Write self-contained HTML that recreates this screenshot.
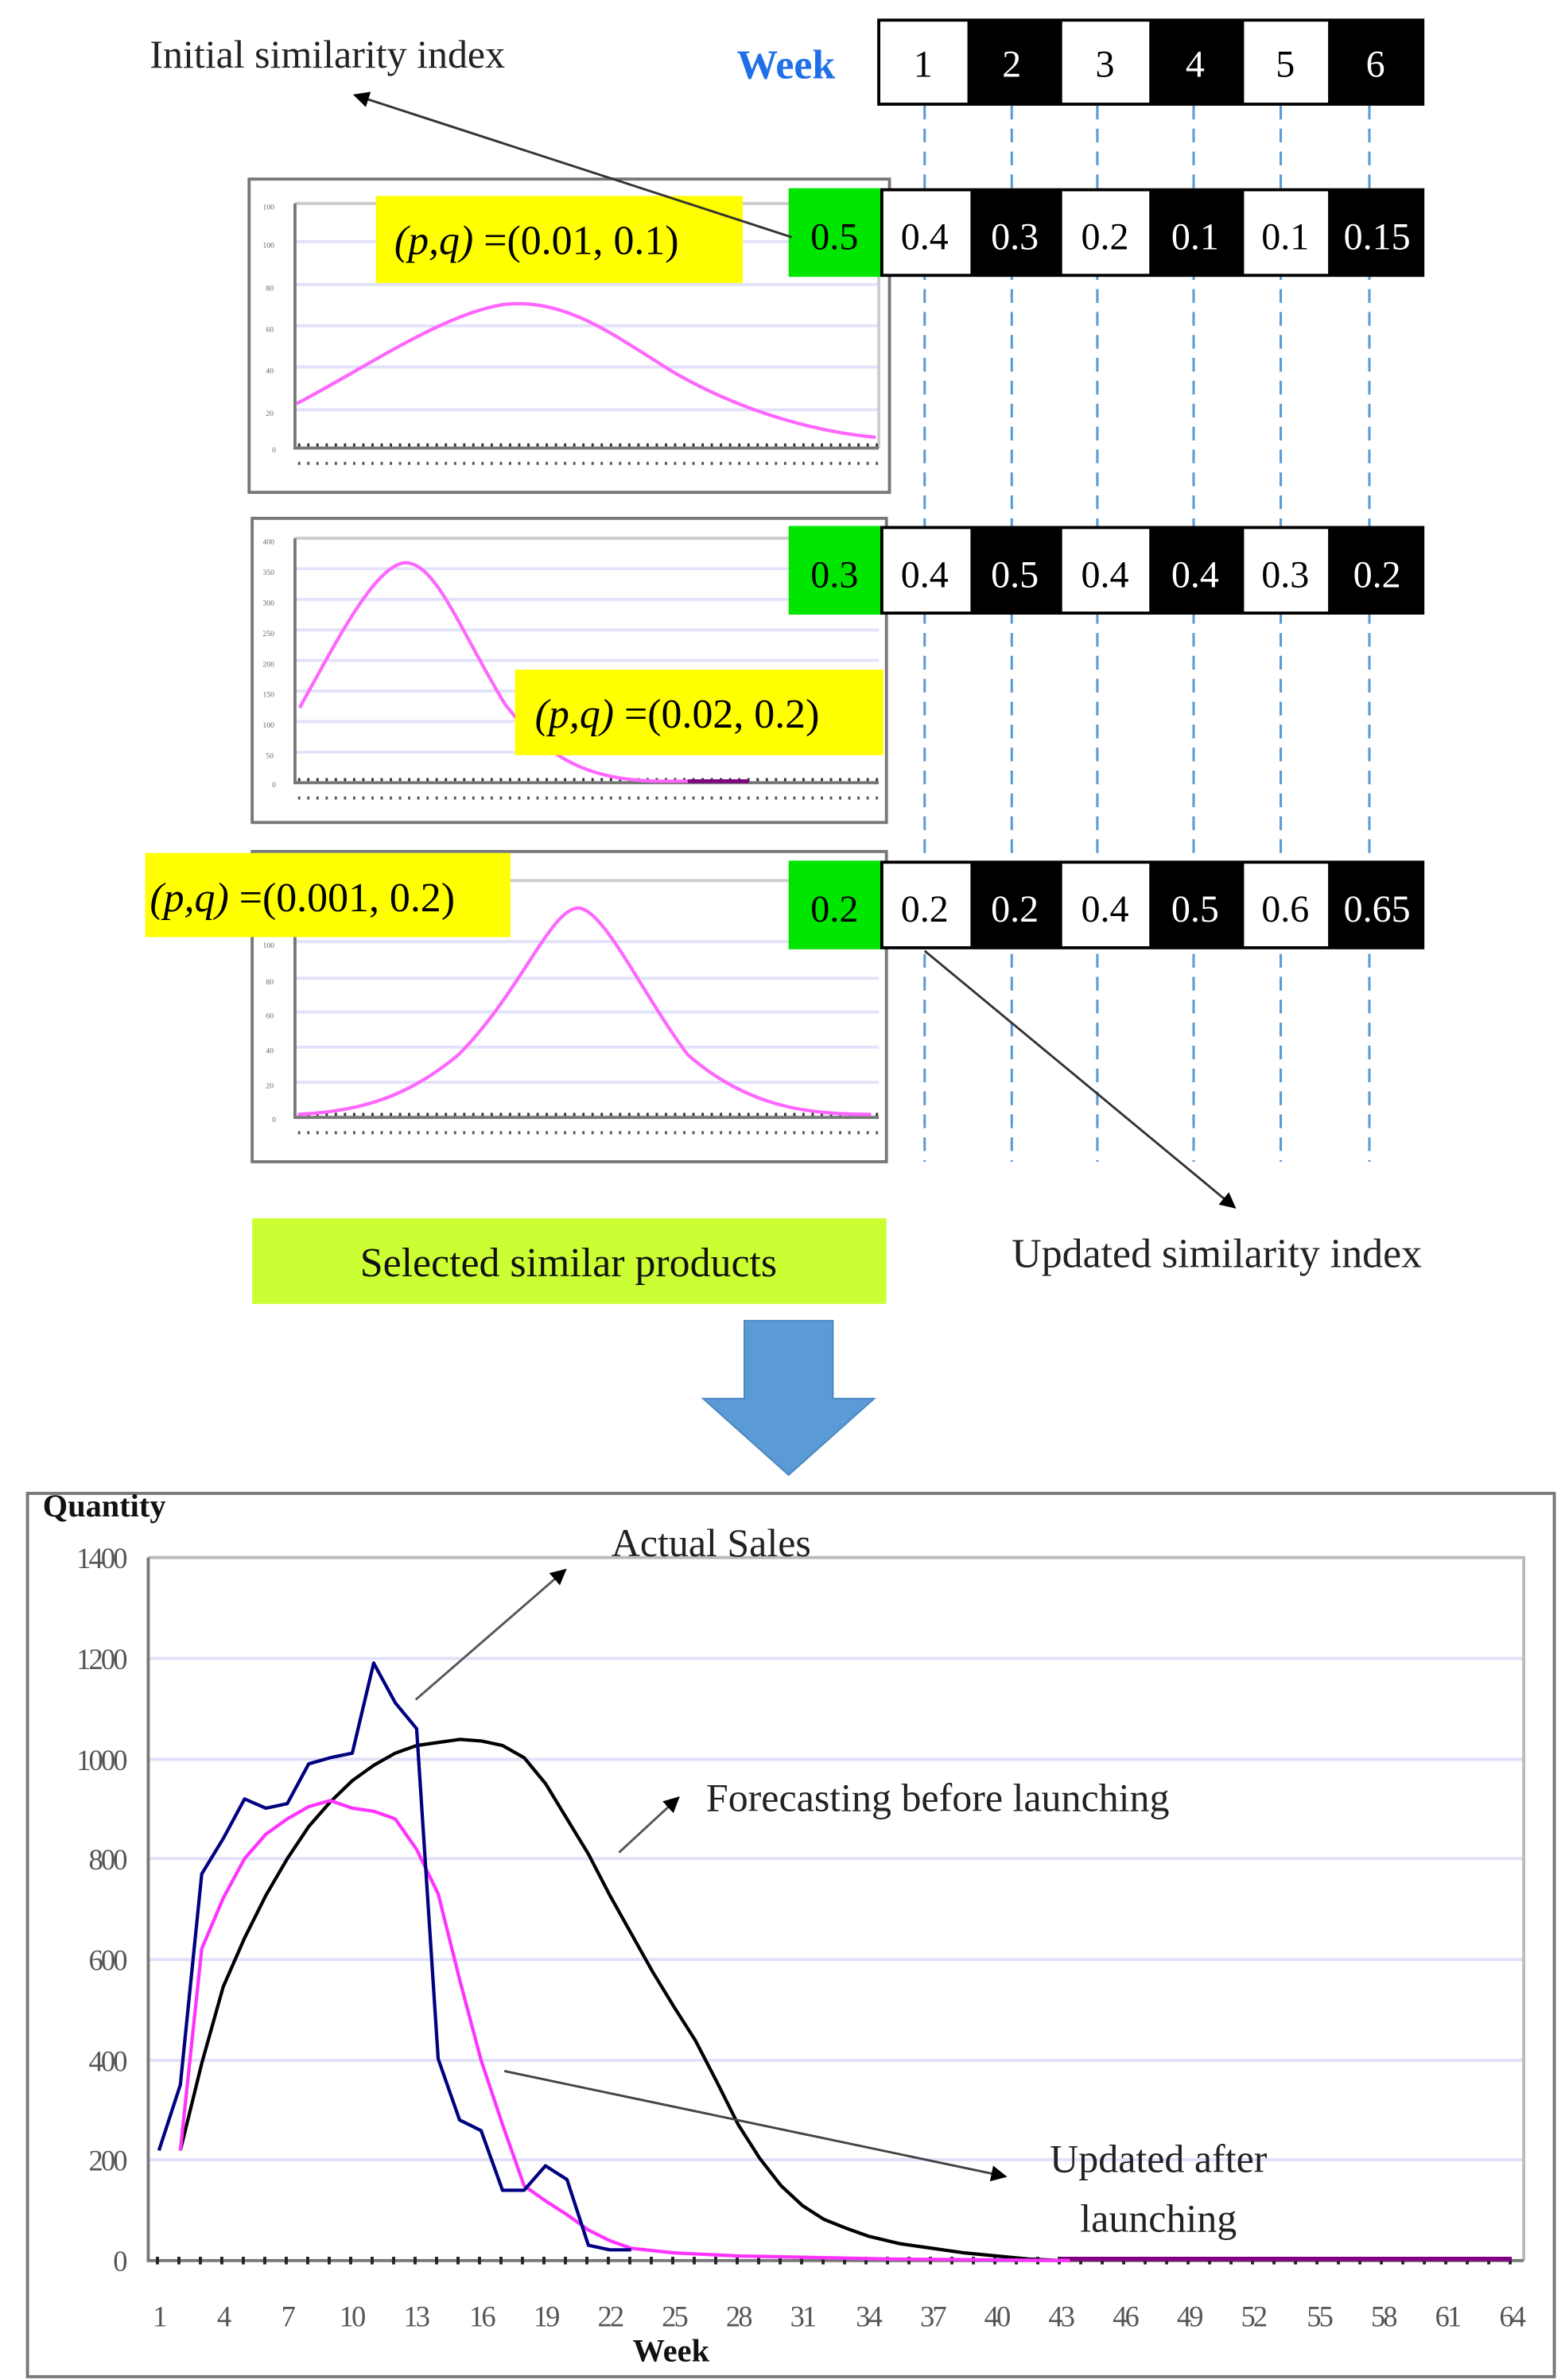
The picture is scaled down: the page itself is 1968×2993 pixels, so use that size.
<!DOCTYPE html>
<html><head><meta charset="utf-8"><style>
html,body{margin:0;padding:0;background:#fff;}
svg{display:block;}
text{font-family:"Liberation Serif",serif;}
</style></head><body>
<svg width="1968" height="2993" viewBox="0 0 1024 1557" xmlns="http://www.w3.org/2000/svg">
<defs>
<marker id="ah" viewBox="0 0 10 10" refX="9" refY="5" markerWidth="7" markerHeight="7" orient="auto"><path d="M0,0 L10,5 L0,10 z" fill="#000"/></marker>
</defs>
<rect width="1024" height="1557" fill="#fff"/>

<!-- dashed verticals -->
<g stroke="#5b9bd5" stroke-width="1.6" stroke-dasharray="9,6">
<line x1="605" y1="69" x2="605" y2="760"/><line x1="662" y1="69" x2="662" y2="760"/>
<line x1="718" y1="69" x2="718" y2="760"/><line x1="781" y1="69" x2="781" y2="760"/>
<line x1="838" y1="69" x2="838" y2="760"/><line x1="896" y1="69" x2="896" y2="760"/>
</g>

<!-- Week header -->
<text x="482" y="51" font-size="27" font-weight="bold" fill="#1e6fe8">Week</text>
<g font-size="25" text-anchor="middle">
<rect x="574" y="12" width="358" height="57" fill="#000"/>
<rect x="576" y="14" width="57" height="53" fill="#fff"/>
<rect x="695" y="14" width="57" height="53" fill="#fff"/>
<rect x="814" y="14" width="55" height="53" fill="#fff"/>
<text x="604" y="50">1</text><text x="662" y="50" fill="#fff">2</text><text x="723" y="50">3</text>
<text x="782" y="50" fill="#fff">4</text><text x="841" y="50">5</text><text x="900" y="50" fill="#fff">6</text>
</g>

<!-- small charts -->
<g>
<rect x="163" y="117" width="419" height="205" fill="#fff" stroke="#777" stroke-width="2"/>
<rect x="165" y="339" width="415" height="199" fill="#fff" stroke="#777" stroke-width="2"/>
<rect x="165" y="557" width="415" height="203" fill="#fff" stroke="#777" stroke-width="2"/>
<g stroke="#e2e2fa" stroke-width="2">
<line x1="193" y1="158" x2="575" y2="158"/><line x1="193" y1="186" x2="575" y2="186"/><line x1="193" y1="213" x2="575" y2="213"/><line x1="193" y1="240" x2="575" y2="240"/><line x1="193" y1="268" x2="575" y2="268"/>
<line x1="193" y1="372" x2="575" y2="372"/><line x1="193" y1="392" x2="575" y2="392"/><line x1="193" y1="412" x2="575" y2="412"/><line x1="193" y1="432" x2="575" y2="432"/><line x1="193" y1="452" x2="575" y2="452"/><line x1="193" y1="472" x2="575" y2="472"/><line x1="193" y1="492" x2="575" y2="492"/>
<line x1="193" y1="616" x2="575" y2="616"/><line x1="193" y1="640" x2="575" y2="640"/><line x1="193" y1="662" x2="575" y2="662"/><line x1="193" y1="685" x2="575" y2="685"/><line x1="193" y1="708" x2="575" y2="708"/>
</g>
<g stroke="#ccc" stroke-width="2" fill="none">
<line x1="193" y1="133" x2="575" y2="133"/><line x1="575" y1="133" x2="575" y2="293"/>
<line x1="193" y1="352" x2="575" y2="352"/><line x1="193" y1="576" x2="575" y2="576"/>
</g>
<g stroke="#777" stroke-width="2" fill="none">
<polyline points="193,133 193,293 575,293"/>
<polyline points="193,352 193,512 575,512"/>
<polyline points="193,576 193,731 575,731"/>
</g>
<g stroke="#333" stroke-width="2" stroke-dasharray="1.5,4.5">
<line x1="195" y1="291" x2="575" y2="291"/><line x1="195" y1="510" x2="575" y2="510"/><line x1="195" y1="729" x2="575" y2="729"/>
<line x1="195" y1="303" x2="575" y2="303" stroke="#556" /><line x1="195" y1="522" x2="575" y2="522" stroke="#556"/><line x1="195" y1="741" x2="575" y2="741" stroke="#556"/>
</g>
<g stroke="#ff66ff" stroke-width="2.2" fill="none">
<path d="M194,264 C240,240 290,205 330,199 C370,195 400,218 440,243 C490,272 540,283 573,286"/>
<path d="M196,463 C220,420 245,370 265,368 C285,368 300,410 330,460 C360,500 390,510 430,511 L490,511"/>
<path d="M195,729 C240,727 270,715 300,690 C340,650 360,595 378,594 C395,594 420,650 450,690 C490,725 530,729 570,729"/>
</g>
<line x1="450" y1="511" x2="490" y2="511" stroke="#800080" stroke-width="2.5"/>
<g fill="#666" font-size="5" font-family="Liberation Sans">
<text x="172" y="137">100</text><text x="172" y="162">100</text><text x="174" y="190">80</text><text x="174" y="217">60</text><text x="174" y="244">40</text><text x="174" y="272">20</text><text x="178" y="296">0</text>
<text x="172" y="356">400</text><text x="172" y="376">350</text><text x="172" y="396">300</text><text x="172" y="416">250</text><text x="172" y="436">200</text><text x="172" y="456">150</text><text x="172" y="476">100</text><text x="174" y="496">50</text><text x="178" y="515">0</text>
<text x="172" y="620">100</text><text x="174" y="644">80</text><text x="174" y="666">60</text><text x="174" y="689">40</text><text x="174" y="712">20</text><text x="178" y="734">0</text>
</g>
</g>

<!-- yellow labels -->
<g font-size="27" font-style="normal">
<rect x="246" y="128" width="240" height="57" fill="#ffff00"/>
<text x="258" y="166"><tspan font-style="italic">(p,q)</tspan> =(0.01, 0.1)</text>
<rect x="337" y="438" width="241" height="56" fill="#ffff00"/>
<text x="350" y="476"><tspan font-style="italic">(p,q)</tspan> =(0.02, 0.2)</text>
<rect x="95" y="558" width="239" height="55" fill="#ffff00"/>
<text x="98" y="596"><tspan font-style="italic">(p,q)</tspan> =(0.001, 0.2)</text>
</g>

<!-- index rows -->
<g font-size="25" text-anchor="middle">
<rect x="516" y="123" width="60" height="58" fill="#00e600"/><text x="546" y="163">0.5</text>
<rect x="576" y="123" width="356" height="58" fill="#000"/>
<rect x="578" y="125" width="57" height="54" fill="#fff"/><rect x="695" y="125" width="57" height="54" fill="#fff"/><rect x="814" y="125" width="55" height="54" fill="#fff"/>
<text x="605" y="163">0.4</text><text x="664" y="163" fill="#fff">0.3</text><text x="723" y="163">0.2</text><text x="782" y="163" fill="#fff">0.1</text><text x="841" y="163">0.1</text><text x="901" y="163" fill="#fff">0.15</text>

<rect x="516" y="344" width="60" height="58" fill="#00e600"/><text x="546" y="384">0.3</text>
<rect x="576" y="344" width="356" height="58" fill="#000"/>
<rect x="578" y="346" width="57" height="54" fill="#fff"/><rect x="695" y="346" width="57" height="54" fill="#fff"/><rect x="814" y="346" width="55" height="54" fill="#fff"/>
<text x="605" y="384">0.4</text><text x="664" y="384" fill="#fff">0.5</text><text x="723" y="384">0.4</text><text x="782" y="384" fill="#fff">0.4</text><text x="841" y="384">0.3</text><text x="901" y="384" fill="#fff">0.2</text>

<rect x="516" y="563" width="60" height="58" fill="#00e600"/><text x="546" y="603">0.2</text>
<rect x="576" y="563" width="356" height="58" fill="#000"/>
<rect x="578" y="565" width="57" height="54" fill="#fff"/><rect x="695" y="565" width="57" height="54" fill="#fff"/><rect x="814" y="565" width="55" height="54" fill="#fff"/>
<text x="605" y="603">0.2</text><text x="664" y="603" fill="#fff">0.2</text><text x="723" y="603">0.4</text><text x="782" y="603" fill="#fff">0.5</text><text x="841" y="603">0.6</text><text x="901" y="603" fill="#fff">0.65</text>
</g>

<!-- arrows top -->
<text x="98" y="44" font-size="26" fill="#222">Initial similarity index</text>
<line x1="518" y1="155" x2="232" y2="62" stroke="#333" stroke-width="1.5" marker-end="url(#ah)"/>
<line x1="605" y1="622" x2="808" y2="790" stroke="#333" stroke-width="1.5" marker-end="url(#ah)"/>
<text x="662" y="829" font-size="27" fill="#222">Updated similarity index</text>

<rect x="165" y="797" width="415" height="56" fill="#ccff33"/>
<text x="372" y="835" font-size="27" text-anchor="middle" fill="#111">Selected similar products</text>

<polygon points="487,864 545,864 545,915 572,915 516,965 460,915 487,915" fill="#5b9bd5" stroke="#4a86c0" stroke-width="1"/>

<!-- main chart -->
<rect x="18" y="977" width="999" height="578" fill="#fff" stroke="#777" stroke-width="2"/>
<g stroke="#e0e0fa" stroke-width="2">
<line x1="97" y1="1085" x2="997" y2="1085"/><line x1="97" y1="1151" x2="997" y2="1151"/><line x1="97" y1="1216" x2="997" y2="1216"/><line x1="97" y1="1282" x2="997" y2="1282"/><line x1="97" y1="1348" x2="997" y2="1348"/><line x1="97" y1="1413" x2="997" y2="1413"/>
</g>
<polyline points="97,1019 997,1019 997,1479" fill="none" stroke="#bbb" stroke-width="2"/>
<polyline points="97,1019 97,1479 997,1479" fill="none" stroke="#777" stroke-width="2"/>
<line x1="97" y1="1479" x2="997" y2="1479" stroke="#222" stroke-width="5" stroke-dasharray="2,12.05" stroke-dashoffset="-5"/>
<g font-size="19" fill="#555" text-anchor="end" font-family="Liberation Sans" letter-spacing="-1.5">
<text x="82" y="1026">1400</text><text x="82" y="1092">1200</text><text x="82" y="1158">1000</text><text x="82" y="1223">800</text><text x="82" y="1289">600</text><text x="82" y="1355">400</text><text x="82" y="1420">200</text><text x="82" y="1486">0</text>
</g>
<g font-size="19" fill="#555" text-anchor="middle" font-family="Liberation Sans" letter-spacing="-1.5">
<text x="104" y="1522">1</text><text x="146" y="1522">4</text><text x="188" y="1522">7</text><text x="230" y="1522">10</text><text x="272" y="1522">13</text><text x="315" y="1522">16</text><text x="357" y="1522">19</text><text x="399" y="1522">22</text><text x="441" y="1522">25</text><text x="483" y="1522">28</text><text x="525" y="1522">31</text><text x="568" y="1522">34</text><text x="610" y="1522">37</text><text x="652" y="1522">40</text><text x="694" y="1522">43</text><text x="736" y="1522">46</text><text x="778" y="1522">49</text><text x="820" y="1522">52</text><text x="863" y="1522">55</text><text x="905" y="1522">58</text><text x="947" y="1522">61</text><text x="989" y="1522">64</text>
</g>
<text x="28" y="992" font-size="21" font-weight="bold" fill="#111">Quantity</text>
<text x="414" y="1545" font-size="21" font-weight="bold" fill="#111">Week</text>

<line x1="694" y1="1478" x2="989" y2="1478" stroke="#800080" stroke-width="3"/>
<polyline fill="none" stroke="#000" stroke-width="2.2" stroke-linejoin="round" points="118,1407 132,1350 146,1300 160,1268 174,1240 188,1216 202,1195 216,1179 230.5,1165 244.5,1155 258.6,1147 272.6,1142 286.7,1140 300.7,1138 314.8,1139 328.8,1142 343,1150 357,1167 371,1190 385,1213 399,1240 413,1265 427,1290 441,1313 455,1335 469,1362 483,1390 497,1412 511,1430 525,1443 539,1452 554,1458 568,1463 589,1468 610,1471 631,1474 652,1476 673,1478 694,1479"/>
<polyline fill="none" stroke="#ff33ff" stroke-width="2.2" stroke-linejoin="round" points="118,1407 132,1275 146,1242 160,1216 174,1200 188,1190 202,1182 216,1178 230.5,1183 244.5,1185 258.6,1190 272.6,1210 286.7,1239 300.7,1295 314.8,1348 328.8,1390 342.9,1430 357,1440 371,1449 385,1459 399,1466 413,1471 441,1474 483,1476 582,1478 700,1479"/>
<polyline fill="none" stroke="#000080" stroke-width="2.2" stroke-linejoin="round" points="104,1407 118,1364 132,1226 146,1203 160,1177 174,1183 188,1180 202,1154 216,1150 230.5,1147 244.5,1088 258.6,1114 272.6,1131 286.7,1347 300.7,1387 314.8,1394 328.8,1433 342.9,1433 356.9,1417 371,1426 385,1469 399,1472 413,1472"/>

<text x="400" y="1018" font-size="26" fill="#222">Actual Sales</text>
<line x1="272" y1="1112" x2="370" y2="1027" stroke="#555" stroke-width="1.5" marker-end="url(#ah)"/>
<text x="462" y="1185" font-size="26" fill="#222">Forecasting before launching</text>
<line x1="405" y1="1212" x2="444" y2="1176" stroke="#555" stroke-width="1.5" marker-end="url(#ah)"/>
<line x1="330" y1="1355" x2="658" y2="1424" stroke="#444" stroke-width="1.5" marker-end="url(#ah)"/>
<text x="758" y="1421" font-size="26" fill="#222" text-anchor="middle">Updated after</text>
<text x="758" y="1460" font-size="26" fill="#222" text-anchor="middle">launching</text>
</svg>
</body></html>
